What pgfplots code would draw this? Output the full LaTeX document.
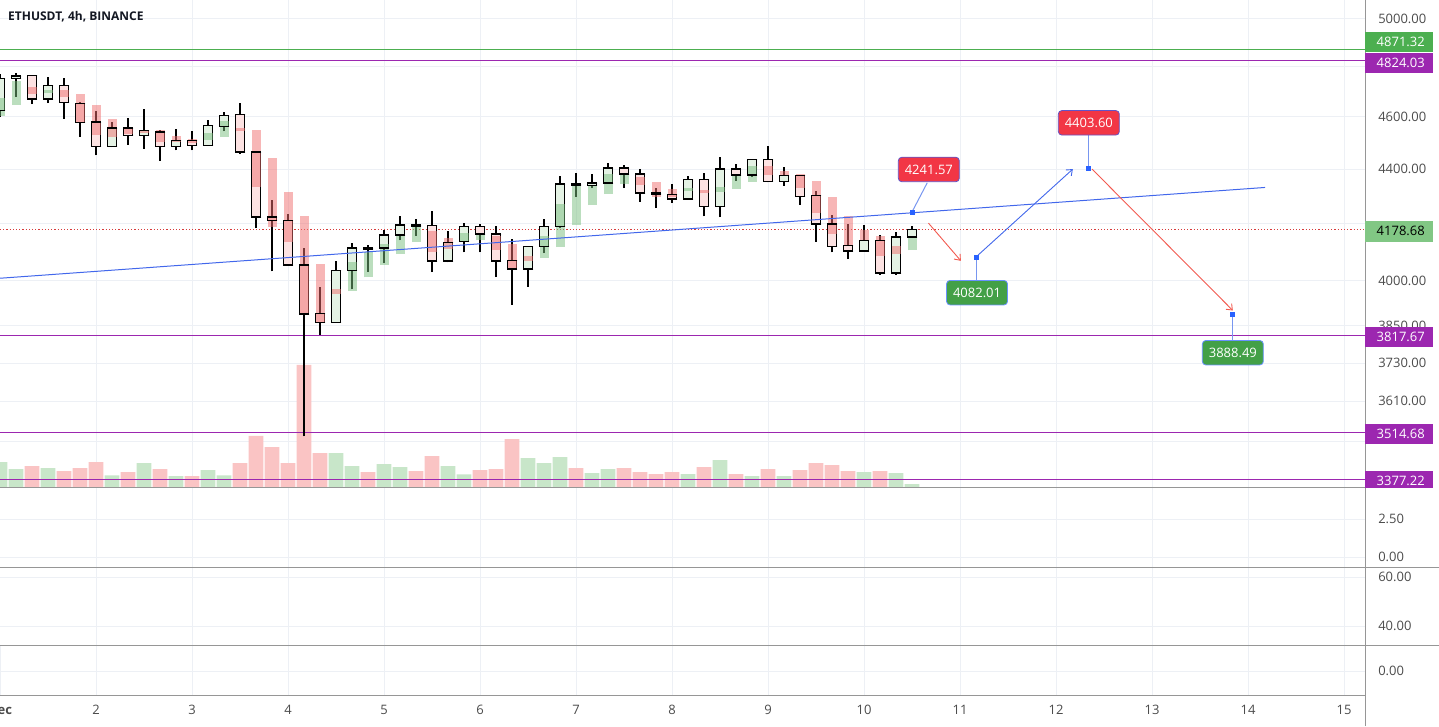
\documentclass[border=0pt]{standalone}
\usepackage{fontspec}
\setmainfont{Open Sans}
\usepackage{pgfplots}
\pgfplotsset{compat=1.18}
\usepackage{pgfplotstable}
\usetikzlibrary{arrows.meta}

\definecolor{gridc}{RGB}{237,240,245}
\definecolor{txt}{RGB}{75,75,75}
\definecolor{titlec}{RGB}{19,23,34}
\definecolor{sepc}{RGB}{150,150,150}
\definecolor{lvgreen}{RGB}{76,175,80}
\definecolor{lvpurple}{RGB}{156,39,176}
\definecolor{lastg}{RGB}{129,199,132}
\definecolor{volg}{RGB}{200,230,201}
\definecolor{volr}{RGB}{250,196,196}
\definecolor{bodyg}{RGB}{228,242,228}
\definecolor{bodyr}{RGB}{252,226,226}
\definecolor{hag}{RGB}{120,190,125}
\definecolor{har}{RGB}{240,110,110}
\definecolor{tlblue}{RGB}{66,103,235}
\definecolor{arred}{RGB}{242,90,80}
\definecolor{callr}{RGB}{242,54,69}
\definecolor{callg}{RGB}{67,160,71}
\definecolor{callborder}{RGB}{98,84,200}
\definecolor{dotred}{RGB}{215,60,60}
\definecolor{ptblue}{RGB}{41,98,255}
\definecolor{connblue}{RGB}{120,150,240}

\newcommand{\lbl}{\fontsize{13}{15}\selectfont}

% candles: T = hours since 1 Dec 00:00, O H L C price, V volume
\pgfplotstableread{
T O H L C V
0 4624.4 4770.0 4598.4 4753.7 25
4 4752.9 4774.1 4679.8 4761.9 18
12 4669.4 4760.3 4653.6 4722.7 19
28 4484.8 4581.2 4482.5 4555.6 11.7
36 4527.0 4631.1 4476.0 4546.3 24
44 4484.8 4552.9 4469.6 4506.5 11
52 4488.6 4587.8 4488.6 4564.6 17
56 4561.8 4616.6 4542.5 4604.7 11.7
84 3861.7 4068.7 3861.7 4034.3 34
88 4034.3 4131.5 3971.2 4113.0 21
96 4113.0 4177.6 4060.7 4158.7 23
100 4158.7 4227.7 4139.6 4194.3 20
112 4067.6 4173.0 4062.8 4132.6 21
116 4135.0 4201.5 4097.6 4189.4 12.7
132 4040.1 4121.1 3980.7 4118.6 29
136 4118.6 4215.7 4095.5 4189.4 24
140 4189.4 4374.2 4183.7 4343.4 30
148 4337.1 4380.6 4328.7 4347.1 14
152 4347.1 4421.7 4347.1 4403.0 18
172 4288.2 4374.2 4288.2 4361.8 13
180 4261.3 4444.4 4223.0 4399.3 27
188 4376.8 4434.1 4369.3 4434.1 11
196 4354.4 4406.8 4337.1 4374.2 11
216 4102.5 4195.4 4101.1 4138.5 15
224 4026.3 4168.0 4020.5 4151.7 14
228 4151.7 4191.9 4151.7 4178.68 3
}\upc

\pgfplotstableread{
T O H L C V
8 4763.1 4767.2 4649.7 4669.4 21
16 4722.7 4753.7 4592.9 4657.5 16
20 4653.6 4659.9 4523.1 4578.1 19
24 4578.9 4620.5 4450.5 4484.8 25
32 4555.6 4596.9 4491.3 4527.0 15
40 4540.1 4549.1 4431.5 4484.8 18
48 4507.6 4545.2 4469.6 4488.6 11
60 4607.5 4653.6 4455.8 4463.4 24
64 4463.4 4463.4 4183.7 4223.0 51
68 4223.0 4285.6 4031.9 4210.7 40
72 4210.7 4234.9 4053.9 4053.9 24
76 4053.9 4113.0 3503.2 3889.2 122
80 3891.5 3980.7 3820.2 3861.7 34
92 4113.0 4124.5 4030.9 4109.5 15
104 4194.3 4215.7 4157.3 4189.4 16
108 4191.9 4245.8 4029.8 4067.6 31
120 4189.4 4197.9 4097.6 4162.4 17
124 4162.4 4191.9 4012.6 4067.6 18
128 4068.6 4144.6 3920.1 4040.1 48
144 4343.4 4384.3 4297.7 4337.1 19
156 4403.0 4415.4 4328.7 4380.6 19
160 4380.6 4399.3 4279.4 4310.3 15
164 4310.3 4328.7 4255.6 4304.0 13
168 4304.0 4343.4 4273.7 4288.2 15
176 4361.8 4384.3 4225.5 4261.3 20
184 4399.3 4419.1 4356.6 4376.8 13
192 4434.1 4484.8 4349.3 4352.9 18
200 4374.2 4374.2 4267.5 4297.7 17
204 4300.3 4316.2 4136.1 4197.9 24
208 4197.9 4231.3 4097.6 4118.6 22
212 4121.1 4198.9 4074.6 4102.5 16
220 4138.5 4157.4 4020.5 4026.3 16
}\dnc

% overlay bodies: T, A = top, B = bottom
\pgfplotstableread{
T A B
0 4674.6 4604.7
4 4742.8 4645.7
12 4706.7 4693.5
52 4537.4 4510.3
56 4585.1 4520.6
88 4065.2 3963.8
92 4098.3 4011.9
96 4128.0 4054.6
100 4158.7 4092.0
104 4189.4 4134.0
116 4165.8 4132.6
120 4162.4 4139.6
136 4153.8 4078.1
140 4270.0 4116.5
144 4343.4 4194.3
148 4337.1 4266.4
152 4380.6 4306.6
156 4380.6 4343.4
172 4329.8 4316.2
180 4334.5 4314.0
184 4376.8 4325.0
188 4409.0 4352.9
228 4151.7 4104.9
}\hau

\pgfplotstableread{
T A B
8 4717.5 4689.5
16 4706.7 4679.8
20 4690.7 4578.9
24 4646.9 4529.7
28 4590.6 4520.6
32 4552.9 4533.5
36 4549.1 4537.4
40 4549.1 4503.8
44 4525.8 4503.8
48 4513.0 4500.0
60 4556.8 4542.5
64 4549.1 4332.3
68 4440.6 4187.2
72 4314.0 4136.1
76 4227.7 3889.2
80 4058.3 3861.7
84 3972.9 3955.0
108 4171.6 4100.1
112 4148.0 4109.5
124 4153.8 4107.1
128 4126.9 4040.1
132 4086.1 4068.6
160 4369.3 4340.8
164 4350.6 4295.6
168 4325.0 4297.7
176 4322.4 4310.3
192 4409.0 4377.8
196 4393.0 4374.2
200 4380.6 4328.7
204 4355.5 4237.5
208 4295.6 4162.4
212 4225.2 4121.1
216 4177.6 4138.5
220 4153.8 4083.8
224 4121.1 4092.0
}\had

\pgfplotsset{
  pane/.style={scale only axis, width=1365pt, xmin=0, xmax=341.25,
    anchor=south west, axis line style={draw=none}, major tick length=0pt,
    xtick={24,48,...,336}, xticklabels={}, grid=major,
    major grid style={gridc, line width=0.8pt},
    yticklabel pos=right,
    yticklabel style={anchor=west, inner sep=0pt, xshift=13pt, font=\lbl, text=txt}},
  over/.style={scale only axis, width=1365pt, height=487pt, xmin=0, xmax=341.25,
    at={(0pt,239pt)}, anchor=south west, hide axis},
  cbar/.style 2 args={draw=none, mark=none, forget plot,
    error bars/.cd, y dir=plus, y explicit, error mark=none,
    error bar style={line width=#1, draw=#2}},
  ghost/.style={draw=none, mark=none, forget plot,
    error bars/.cd, y dir=plus, y explicit, error mark=none,
    error bar style={line width=9pt, draw=#1, draw opacity=0.5}},
  cedge/.style={only marks, mark=-, mark size=5.25pt, forget plot,
    mark options={line width=1.25pt, draw=black}},
}
\tikzset{
  callout/.style={rounded corners=3.5pt, line width=0.8pt, text=white,
    minimum width=61pt, minimum height=24.5pt, inner sep=0pt, font=\lbl},
}

\begin{document}
\begin{tikzpicture}
\path[use as bounding box] (0pt,0pt) rectangle (1439pt,726pt);

% price pane grid and price scale
\begin{axis}[pane, at={(0pt,239pt)}, height=487pt, ymode=log, ymin=3356.1, ymax=5081.5,
  ytick={5000,4800,4600,4400,4200,4000,3850,3730,3610,3490},
  yticklabels={5000.00,,4600.00,4400.00,,4000.00,3850.00,3730.00,3610.00,}]
\addplot[draw=none, forget plot] coordinates {(10,4000) (20,4100)};
\end{axis}

% volume overlay
\begin{axis}[over, ymin=0, ymax=487]
\addplot[ybar, bar width=14.6pt, bar shift=0pt, fill=volg, draw=none] table[x=T, y=V] {\upc};
\addplot[ybar, bar width=14.6pt, bar shift=0pt, fill=volr, draw=none] table[x=T, y=V] {\dnc};
\end{axis}

% candles and drawings
\begin{axis}[over, ymode=log, ymin=3356.1, ymax=5081.5, clip=false]
% level lines
\addplot[draw=lvgreen, line width=1.2pt] coordinates {(0,4871.32) (341.25,4871.32)};
\addplot[draw=lvpurple, line width=1.2pt] coordinates {(0,4824.03) (341.25,4824.03)};
\addplot[draw=lvpurple, line width=1.2pt] coordinates {(0,3817.67) (341.25,3817.67)};
\addplot[draw=lvpurple, line width=1.2pt] coordinates {(0,3514.68) (341.25,3514.68)};
\addplot[draw=lvpurple, line width=1.2pt] coordinates {(0,3377.22) (341.25,3377.22)};
\addplot[draw=dotred, line width=1pt, dash pattern=on 1.2pt off 2pt] coordinates {(0,4178.68) (341.25,4178.68)};
% wicks
\addplot[cbar={1.25pt}{black}] table[x=T, y=L, y error plus expr={\thisrow{H}-\thisrow{L}}] {\upc};
\addplot[cbar={1.25pt}{black}] table[x=T, y=L, y error plus expr={\thisrow{H}-\thisrow{L}}] {\dnc};
% bodies: outline and fill
\addplot[cbar={10.5pt}{black}] table[x=T, y=O, y error plus expr={\thisrow{C}-\thisrow{O}}] {\upc};
\addplot[cbar={10.5pt}{black}] table[x=T, y=C, y error plus expr={\thisrow{O}-\thisrow{C}}] {\dnc};
\addplot[cbar={8pt}{bodyg}] table[x=T, y=O, y error plus expr={\thisrow{C}-\thisrow{O}}] {\upc};
\addplot[cbar={8pt}{bodyr}] table[x=T, y=C, y error plus expr={\thisrow{O}-\thisrow{C}}] {\dnc};
% translucent overlay bodies
\addplot[ghost=hag] table[x=T, y=B, y error plus expr={\thisrow{A}-\thisrow{B}}] {\hau};
\addplot[ghost=har] table[x=T, y=B, y error plus expr={\thisrow{A}-\thisrow{B}}] {\had};
% top and bottom edges
\addplot[cedge] table[x=T, y=O] {\upc};
\addplot[cedge] table[x=T, y=C] {\upc};
\addplot[cedge] table[x=T, y=O] {\dnc};
\addplot[cedge] table[x=T, y=C] {\dnc};
% trend line
\addplot[draw=tlblue, line width=1pt] coordinates {(0,4008.5) (316.25,4331)};
% arrows
\addplot[draw=arred, line width=0.9pt, -{Straight Barb[length=5pt,width=8pt]}] coordinates {(232.1,4201.5) (240.2,4068.6)};
\addplot[draw=tlblue, line width=0.9pt, -{Straight Barb[length=5pt,width=8pt]}] coordinates {(244,4082.01) (268.2,4399.3)};
\addplot[draw=arred, line width=0.9pt, -{Straight Barb[length=5pt,width=8pt]}] coordinates {(273,4399.3) (308.2,3900.2)};
% connectors
\addplot[draw=connblue, line width=1pt] coordinates {(228,4241.57) (231.8,4348.1)};
\addplot[draw=connblue, line width=1pt] coordinates {(244,4082.01) (244,4001.0)};
\addplot[draw=connblue, line width=1pt] coordinates {(272,4403.60) (272,4529.7)};
\addplot[draw=connblue, line width=1pt] coordinates {(308,3888.49) (308,3801.6)};
% anchor points
\addplot[only marks, mark=square*, mark size=2pt, color=ptblue] coordinates {(228,4241.57) (244,4082.01) (272,4403.60) (308,3888.49)};
% callouts
\node[callout, fill=callr, draw=callborder] at (axis cs:232.2,4397.8) {4241.57};
\node[callout, fill=callg, draw=ptblue!70] at (axis cs:244.25,3960.0) {4082.01};
\node[callout, fill=callr, draw=callborder] at (axis cs:272.2,4576.2) {4403.60};
\node[callout, fill=callg, draw=ptblue!70] at (axis cs:308.2,3762.7) {3888.49};
\end{axis}

% lower panes
\begin{axis}[pane, at={(0pt,159pt)}, height=80pt, ymin=-0.658, ymax=4.605,
  ytick={0,2.5}, yticklabels={0.00,2.50}]
\addplot[draw=none, forget plot] coordinates {(10,1) (20,2)};
\end{axis}
\begin{axis}[pane, at={(0pt,81pt)}, height=78pt, ymin=32.24, ymax=64.08,
  ytick={40,60}, yticklabels={40.00,60.00}]
\addplot[draw=none, forget plot] coordinates {(10,40) (20,50)};
\end{axis}
\begin{axis}[pane, at={(0pt,31pt)}, height=50pt, ymin=-0.96, ymax=1.04,
  ytick={0}, yticklabels={0.00},
  xtick={0,24,...,336}, xticklabels={\textbf{Dec},2,3,4,5,6,7,8,9,10,11,12,13,14,15},
  xticklabel style={font=\lbl, text=txt, anchor=base, inner sep=0pt, yshift=-19.5pt}]
\addplot[draw=none, forget plot] coordinates {(10,0) (20,0.5)};
\end{axis}

% separators
\draw[sepc, line width=1pt] (1365pt,0pt) -- (1365pt,726pt);
\draw[sepc, line width=1pt] (0pt,239pt) -- (1365pt,239pt);
\draw[sepc, line width=1pt] (0pt,159pt) -- (1439pt,159pt);
\draw[sepc, line width=1pt] (0pt,81pt) -- (1439pt,81pt);
\draw[sepc, line width=1pt] (0pt,31pt) -- (1365pt,31pt);

% price scale labels
\begin{scope}
\clip (1365pt,239pt) rectangle (1439pt,726pt);
\fill[lvgreen] (1365pt,674.3pt) rectangle (1433pt,693.7pt);
\node[anchor=west, text=white, font=\lbl, inner sep=0pt] at (1376.5pt,684pt) {4871.32};
\fill[lvpurple] (1365pt,653.3pt) rectangle (1433pt,672.7pt);
\node[anchor=west, text=white, font=\lbl, inner sep=0pt] at (1376.5pt,663pt) {4824.03};
\fill[lastg] (1365pt,484.3pt) rectangle (1433pt,505pt);
\node[anchor=west, text=black, font=\lbl, inner sep=0pt] at (1376.5pt,494.7pt) {4178.68};
\fill[lvpurple] (1365pt,378.7pt) rectangle (1433pt,398.7pt);
\node[anchor=west, text=white, font=\lbl, inner sep=0pt] at (1376.5pt,388.7pt) {3817.67};
\fill[lvpurple] (1365pt,281.7pt) rectangle (1433pt,301.7pt);
\node[anchor=west, text=white, font=\lbl, inner sep=0pt] at (1376.5pt,291.7pt) {3514.68};
\fill[lvpurple] (1365pt,235.3pt) rectangle (1433pt,255.3pt);
\node[anchor=west, text=white, font=\lbl, inner sep=0pt] at (1376.5pt,245.3pt) {3377.22};
\end{scope}

% title
\node[anchor=west, inner sep=0pt, text=titlec, font=\fontsize{12}{14}\selectfont\bfseries] at (8pt,709.5pt) {ETHUSDT, 4h, BINANCE};
\end{tikzpicture}
\end{document}
